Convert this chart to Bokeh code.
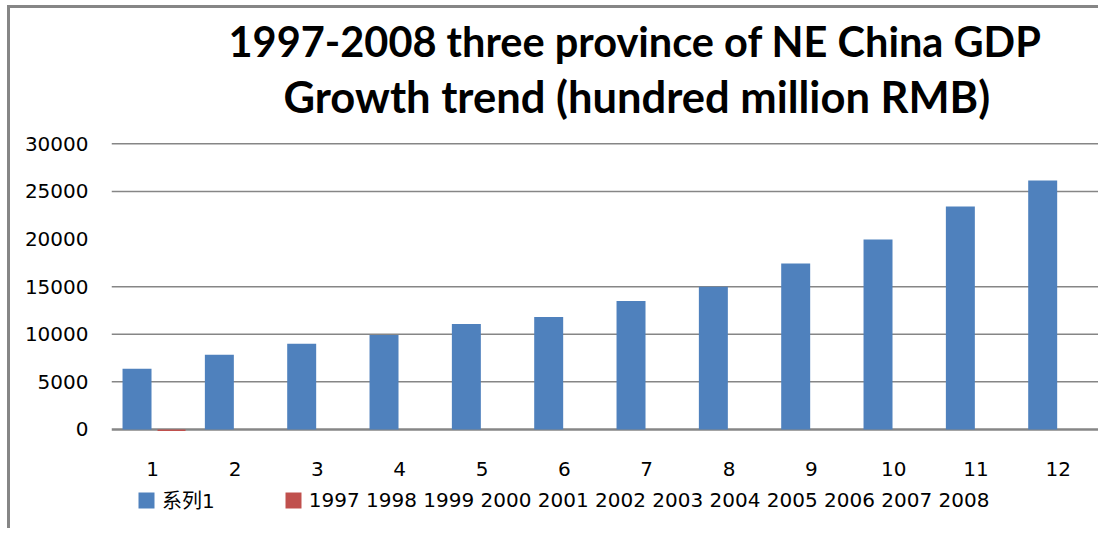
from bokeh.plotting import figure
from bokeh.models import (FactorRange, Range1d, FixedTicker, Legend, LegendItem,
                          Span, Title, ColumnDataSource)
from bokeh.transform import dodge
from bokeh.core.properties import value
from bokeh.embed import file_html
from bokeh.resources import INLINE

# ---- data ----
categories = [str(i) for i in range(1, 13)]
gdp_series = [6380, 7850, 9010, 9930, 11080, 11800, 13500, 14980, 17430, 19950, 23420, 26150]
year_series = [-150, 0, 0, 0, 0, 0, 0, 0, 0, 0, 0, 0]
series1_name = "系列1"
series2_name = "1997 1998 1999 2000 2001 2002 2003 2004 2005 2006 2007 2008"
y_ticks = [0, 5000, 10000, 15000, 20000, 25000, 30000]
grid_ticks = [0, 5000, 10000, 15000, 25000, 30000]
title_line1 = "1997-2008 three province of NE China GDP"
title_line2 = "Growth trend (hundred million RMB)"

src = ColumnDataSource(dict(x=categories, a=gdp_series, b=year_series))
label_src = ColumnDataSource(dict(x=categories, y=[-4200] * len(categories), t=categories))

SMALL_FONT = "DejaVu Sans, Noto Sans CJK SC"

p = figure(x_range=FactorRange(*categories), y_range=Range1d(-10713, 30240),
           width=1091, height=523, output_backend="svg", toolbar_location=None,
           x_axis_location=None,
           min_border_left=101, min_border_right=2, min_border_top=100,
           min_border_bottom=0,
           styles={"border-left": "3px solid #868686", "border-top": "3px solid #868686",
                   "margin-left": "7px", "margin-top": "5px"})
p.outline_line_color = None
p.background_fill_color = "white"
p.border_fill_color = "white"
p.xgrid.grid_line_color = None
p.ygrid.grid_line_color = None

r1 = p.vbar(x=dodge("x", -0.19, range=p.x_range), top="a", bottom=0, width=0.352,
            source=src, fill_color="#4F81BD", line_color=None)
r2 = p.vbar(x=dodge("x", 0.229, range=p.x_range), top="b", bottom=0, width=0.34,
            source=src, fill_color="#C0504D", line_color=None)

# horizontal grid lines (no line at 20000, as in the reference)
for t in grid_ticks:
    p.add_layout(Span(location=t, dimension="width", line_color="#868686",
                      line_width=2.5 if t == 0 else 1.5, level="underlay"))

# category labels under the bars
p.text(x="x", y="y", text="t", source=label_src, text_align="center",
       text_baseline="middle", text_font=value(SMALL_FONT), text_font_size="20px",
       text_color="black")

# titles: p.title is the outermost; added panels stack outward from the plot
p.title.text = title_line1
p.title.align = "left"
p.title.offset = 117
p.title.text_font = "Lato"
p.title.text_font_style = "bold"
p.title.text_font_size = "41.5px"
p.title.text_color = "black"
p.title.standoff = 9.5
# spacer between the second title line and the plot
p.add_layout(Title(text=" ", text_font_size="2px", standoff=17.5), "above")
p.add_layout(Title(text=title_line2, align="left", offset=172, text_font="Lato",
                   text_font_style="bold", text_font_size="43.5px", text_color="black",
                   standoff=-5), "above")

# y axis
p.yaxis.ticker = FixedTicker(ticks=y_ticks)
ax = p.yaxis[0]
ax.axis_line_color = None
ax.major_tick_line_color = None
ax.minor_tick_line_color = None
ax.major_tick_out = 0
ax.major_tick_in = 0
ax.major_label_text_font = SMALL_FONT
ax.major_label_text_font_size = "20px"
ax.major_label_text_color = "black"
ax.major_label_standoff = 23

legend = Legend(items=[LegendItem(label=value(series1_name), renderers=[r1]),
                       LegendItem(label=value(series2_name), renderers=[r2])],
                orientation="horizontal", location=(25, 17),
                glyph_width=20, glyph_height=20, label_standoff=6, spacing=68,
                padding=0, margin=0, border_line_alpha=0, background_fill_alpha=0,
                label_text_font=SMALL_FONT, label_text_font_size="20px",
                label_text_color="black", label_height=20)
p.add_layout(legend, "center")

open("out.html", "w").write(file_html(p, INLINE))
